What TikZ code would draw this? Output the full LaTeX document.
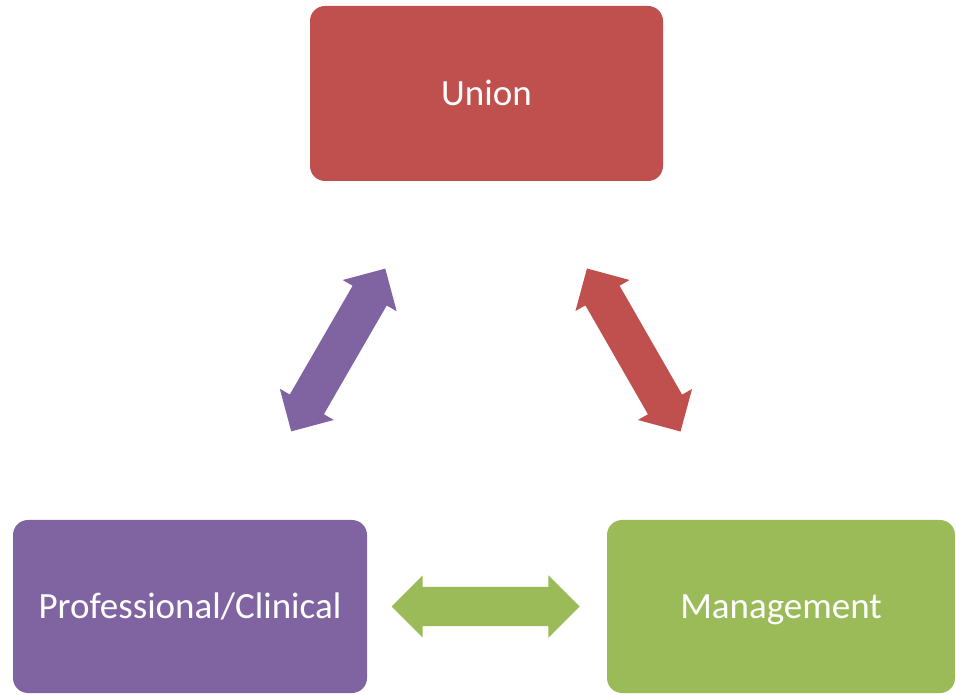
\documentclass[tikz,border=0pt]{standalone}
\usepackage{fontspec}
\setmainfont{Carlito}
\usetikzlibrary{shapes.arrows}
\definecolor{unionred}{HTML}{C0504D}
\definecolor{clinpurple}{HTML}{8064A2}
\definecolor{mgmtgreen}{HTML}{9BBB59}
\begin{document}
\begin{tikzpicture}[x=1pt, y=1pt,
    box/.style = {rounded corners=15pt, minimum width=354pt, minimum height=173pt, text=white, text height=23.4pt, text depth=0pt, font=\fontsize{37}{44}\selectfont},
    dblarrow/.style = {double arrow, double arrow head extend=11.5pt, minimum width=62pt, minimum height=188pt, inner xsep=0pt, inner ysep=19.5pt, sloped, midway}
  ]
  \useasboundingbox (0, 0) rectangle (956, 694);

  \node [box, fill=unionred, minimum height=175pt, minimum width=353pt] (union) at (486.5, 600.5) {Union};
  \node [box, fill=clinpurple] (clin) at (190, 87.5) {Professional/Clinical};
  \node [box, fill=mgmtgreen, minimum width=348pt] (mgmt) at (781, 87.5) {Management};

  \path (clin.center) -- node [dblarrow, fill=clinpurple] (clinunion) {} (union.center);
  \path (union.center) -- node [dblarrow, fill=unionred] (unionmgmt) {} (mgmt.center);
  \path (clin.center) -- node [dblarrow, fill=mgmtgreen] (clinmgmt) {} (mgmt.center);
\end{tikzpicture}
\end{document}
